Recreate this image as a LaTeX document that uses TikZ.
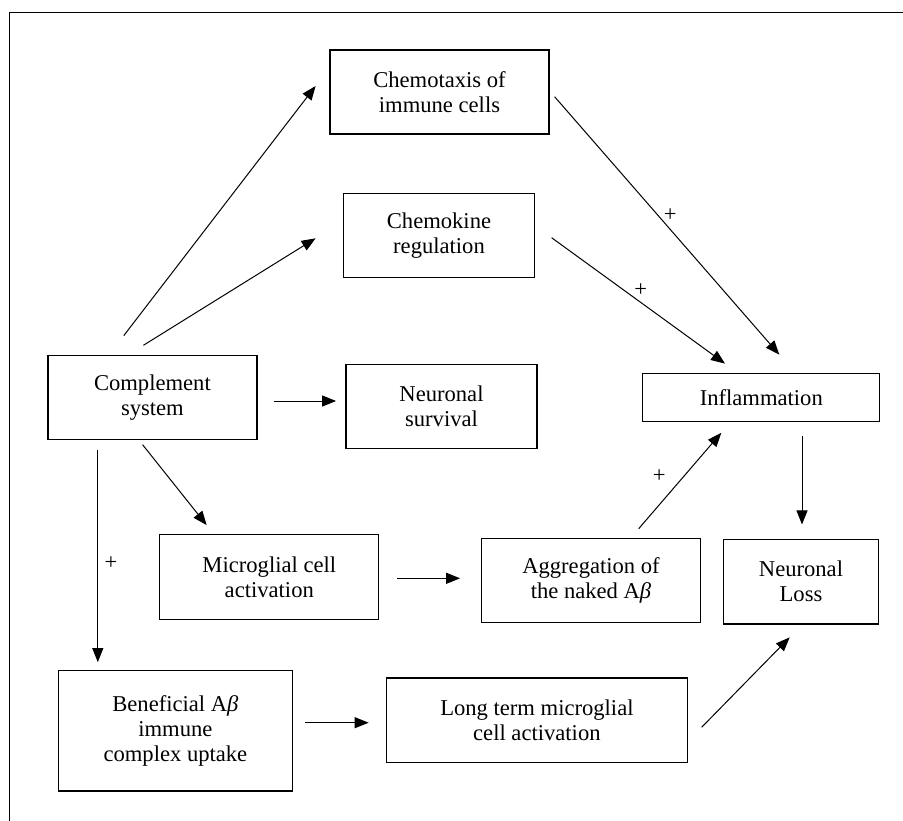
\documentclass[tikz,border=0pt]{standalone}
\usepackage{fontspec}
\setmainfont{Liberation Serif}
\usetikzlibrary{arrows.meta,calc}
\tikzset{
  box/.style={draw=black, line width=1.2pt, align=center, inner sep=0pt,
    font=\fontsize{22.6}{25}\selectfont},
  arr/.style={draw=black, line width=1pt, -{Triangle[length=14pt,width=11pt]}},
  plus/.style={font=\fontsize{22.6}{25}\selectfont, inner sep=0pt}
}
\begin{document}
\begin{tikzpicture}[x=1pt,y=-1pt]
\useasboundingbox (0,0) rectangle (903,821);
% partial frame
\coordinate (fbl) at (9.5,821);
\coordinate (ftl) at (9.5,12.3);
\coordinate (ftr) at (903,12.3);
\draw[line width=1.4pt] (fbl) -- (ftl) -- (ftr);
% boxes
\node[box, minimum width=219pt, minimum height=84pt] (chemo) at (439.5,92) {Chemotaxis of\\immune cells};
\node[box, minimum width=191pt, minimum height=84pt] (chemok) at (439,235.6) {Chemokine\\regulation};
\node[box, minimum width=209pt, minimum height=84pt] (comp) at (152.4,397.2) {Complement\\system};
\node[box, minimum width=191pt, minimum height=84pt] (surv) at (441.5,406.2) {Neuronal\\survival};
\node[box, minimum width=237pt, minimum height=48pt] (infl) at (761.3,397.2) {Inflammation};
\node[box, minimum width=219pt, minimum height=84.5pt] (micro) at (269.3,577) {Microglial cell\\activation};
\node[box, minimum width=218.6pt, minimum height=84.4pt] (aggr) at (591,580.5) {Aggregation of\\the naked A\textit{β}};
\node[box, minimum width=155.4pt, minimum height=84.7pt] (loss) at (801,581.7) {Neuronal\\Loss};
\node[box, minimum width=234.4pt, minimum height=120.3pt] (benef) at (175.4,730.9) {Beneficial A\textit{β}\\immune\\complex uptake};
\node[box, minimum width=300.7pt, minimum height=84.7pt] (long) at (536.9,720.4) {Long term microglial\\cell activation};
% connectors
\draw[arr] ($(comp.north)+(-28.6,-19)$) -- ($(chemo.west)+(-13.8,-6)$);
\draw[arr] ($(comp.north)+(-9,-9.3)$) -- ($(chemok.west)+(-27.3,2.7)$);
\draw[arr] ($(comp.east)+(16.3,3.8)$) -- ($(surv.west)+(-9.3,-5.2)$);
\draw[arr] ($(comp.south)+(-9.8,4.9)$) -- ($(micro.north)+(-62.6,-9)$);
\draw[arr] ($(comp.south)+(-54.6,10)$) -- ($(benef.north)+(-77.6,-8)$);
\draw[arr] ($(chemo.east)+(5,4.7)$) -- ($(infl.north)+(18,-18)$);
\draw[arr] ($(chemok.east)+(16.5,2.1)$) -- ($(infl.north)+(-36.3,-9)$);
\draw[arr] ($(micro.east)+(18,1.3)$) -- ($(aggr.west)+(-21,-2.2)$);
\draw[arr] ($(aggr.north)+(47.7,-9)$) -- ($(infl.south)+(-40,11)$);
\draw[arr] ($(infl.south)+(40.7,13.7)$) -- ($(loss.north)+(1,-14.3)$);
\draw[arr] ($(benef.east)+(12.1,-8.2)$) -- ($(long.west)+(-17.3,2.3)$);
\draw[arr] ($(long.east)+(13.8,6.9)$) -- ($(loss.south)+(-11.3,12.7)$);
% plus labels
\node[plus] (p1) at (670.3,214.7) {+};
\node[plus] (p2) at (640.7,290) {+};
\node[plus] (p3) at (659.3,476) {+};
\node[plus] (p4) at (111,563.3) {+};
\end{tikzpicture}
\end{document}
